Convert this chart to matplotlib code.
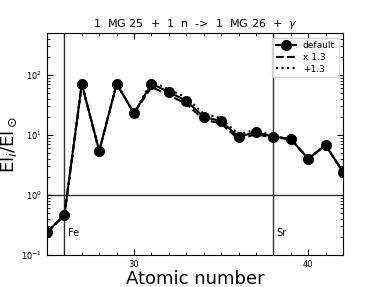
import matplotlib
matplotlib.use("Agg")
import matplotlib.pyplot as plt
from matplotlib.ticker import MultipleLocator

Z = [25, 26, 27, 28, 29, 30, 31, 32, 33, 34, 35, 36, 37, 38, 39, 40, 41, 42]
default = [0.24, 0.46, 71, 5.4, 71, 23, 71, 52, 37, 20, 17, 9.3, 11.2, 9.3, 8.6, 4.0, 6.8, 2.4]
times13 = [0.24, 0.46, 71, 5.4, 71, 23, 63, 46, 33, 18, 15.5, 8.5, 10.3, 9.0, 8.6, 4.0, 6.8, 2.4]
plus13 = [0.24, 0.46, 71, 5.4, 71, 23, 78, 58, 42, 22.5, 19, 10.2, 12.2, 9.6, 8.6, 4.0, 6.8, 2.4]

title = r"1  MG 25  +  1  n  ->  1  MG 26  +  $\gamma$"
elements = [("Fe", 26), ("Sr", 38)]

fig = plt.figure(figsize=(3.83, 2.87), dpi=100)
ax = fig.add_axes([0.1227, 0.1115, 0.7729, 0.7735])

ax.plot(Z, default, '-o', color='black', lw=1.5, ms=7, label='default', zorder=3)
ax.plot(Z, times13, '--', color='black', lw=1.5, label='x 1.3', zorder=2)
ax.plot(Z, plus13, ':', color='black', lw=1.5, label='+1.3', zorder=2)

ax.axhline(1.0, color='#333333', lw=1.0, zorder=1)
for name, z in elements:
    ax.axvline(z, color='#333333', lw=1.0, zorder=1)
    ax.text(z + 0.2, 0.23, name, fontsize=7, ha='left', va='center')

ax.set_yscale('log')
ax.set_xlim(25, 42)
ax.set_ylim(0.1, 500)
ax.xaxis.set_major_locator(MultipleLocator(10))
ax.xaxis.set_minor_locator(MultipleLocator(1))
ax.tick_params(which='both', direction='in', top=True, right=True, labelsize=6)
ax.tick_params(which='major', length=4)
ax.tick_params(which='minor', length=2)

ax.set_title(title, fontsize=8, pad=4)
ax.set_xlabel('Atomic number', fontsize=13, labelpad=1)
ax.set_ylabel(r'El$_i$/El$_\odot$', fontsize=13, labelpad=2)

ax.legend(loc='upper right', fontsize=6.5, handlelength=2.2, borderpad=0.4, labelspacing=0.3)

fig.savefig('out.png', dpi=100)
